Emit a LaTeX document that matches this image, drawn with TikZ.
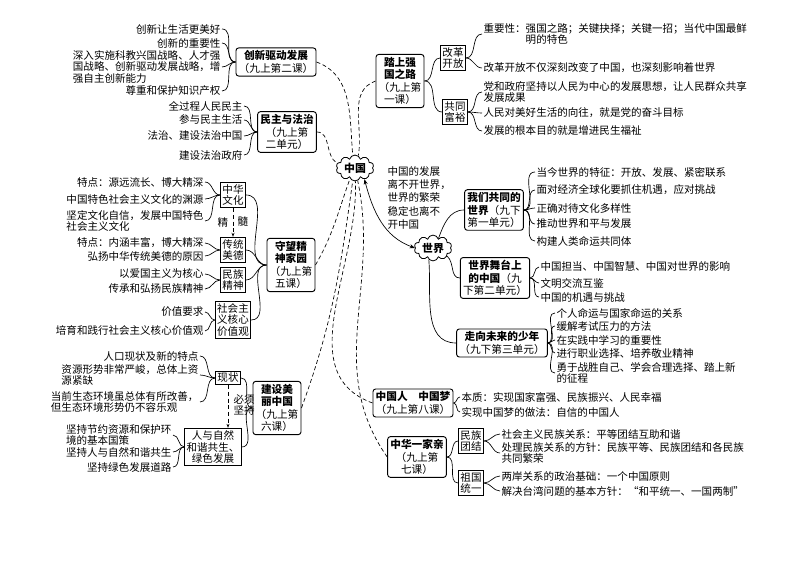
\documentclass[tikz,border=0pt]{standalone}
\usepackage{fontspec}
\setmainfont{Noto Sans CJK SC}
\usetikzlibrary{shapes.symbols,arrows.meta}
\begin{document}
\begin{tikzpicture}[x=0.75pt,y=-0.75pt,
  every node/.style={font=\fontsize{7.9}{8.9}\selectfont},
  box/.style={draw,rounded corners=2pt,line width=0.7pt,align=center,inner sep=2pt,font=\fontsize{8}{9.4}\selectfont\bfseries},
  sub/.style={draw,line width=0.6pt,align=center,inner sep=1.5pt},
  lf/.style={inner sep=1pt,align=left},
  br/.style={line width=0.5pt},
  dl/.style={densely dashed,line width=0.5pt},
  cl/.style={draw,cloud,cloud puffs=10,aspect=1.9,inner sep=1pt,line width=0.6pt,font=\fontsize{8.2}{9.8}\selectfont\bfseries}]
\useasboundingbox (0,0) rectangle (800,566);
% centres
\node[cl] (zg) at (355,168) {中国};
\node[cl] (sj) at (433,248) {世界};
% ---------- left: 创新驱动发展
\node[box] (cx) at (276,62) {创新驱动发展\\{\mdseries（九上第二课）}};
\node[lf,anchor=east] (c1) at (222,29) {创新让生活更美好};
\node[lf,anchor=east] (c2) at (222,43) {创新的重要性};
\node[lf,anchor=east] (c3) at (222,67) {深入实施科教兴国战略、人才强\\国战略、创新驱动发展战略，增\\强自主创新能力};
\node[lf,anchor=east] (c4) at (222,91) {尊重和保护知识产权};
\foreach \l in {c1,c2,c3,c4} \draw[br] (cx.west) to[out=180,in=0] (\l.east);
% 民主与法治
\node[box] (mz) at (287,132) {民主与法治\\{\mdseries（九上第}\\{\mdseries 二单元）}};
\node[lf,anchor=east] (m1) at (244,106) {全过程人民民主};
\node[lf,anchor=east] (m2) at (244,120) {参与民主生活};
\node[lf,anchor=east] (m3) at (244,136) {法治、建设法治中国};
\node[lf,anchor=east] (m4) at (244,155) {建设法治政府};
\foreach \l in {m1,m2,m3,m4} \draw[br] (mz.west) to[out=180,in=0] (\l.east);
% 守望精神家园
\node[box] (sw) at (291,265) {守望精\\神家园\\{\mdseries（九上第}\\{\mdseries 五课）}};
\node[sub] (s1) at (233,195) {中华\\文化};
\node[sub] (s2) at (233,250) {传统\\美德};
\node[sub] (s3) at (233,280) {民族\\精神};
\node[sub] (s4) at (233,320) {社会主\\义核心\\价值观};
\foreach \l in {s1,s2,s3,s4} \draw[br] (sw.west) to[out=180,in=0] (\l.east);
\draw[dl,-{Stealth[length=3pt]}] (s1.south) -- (s2.north);
\node (jing) at (223,222) {精};
\node (sui) at (243,222) {髓};
\node[lf,anchor=east] (a1) at (205,182) {特点：源远流长、博大精深};
\node[lf,anchor=east] (a2) at (205,199) {中国特色社会主义文化的渊源};
\node[lf,anchor=east] (a3) at (205,221) {坚定文化自信，发展中国特色\\社会主义文化};
\foreach \l in {a1,a2,a3} \draw[br] (s1.west) to[out=180,in=0] (\l.east);
\node[lf,anchor=east] (b1) at (205,243) {特点：内涵丰富，博大精深};
\node[lf,anchor=east] (b2) at (205,256) {弘扬中华传统美德的原因};
\foreach \l in {b1,b2} \draw[br] (s2.west) to[out=180,in=0] (\l.east);
\node[lf,anchor=east] (d1) at (205,274) {以爱国主义为核心};
\node[lf,anchor=east] (d2) at (205,289) {传承和弘扬民族精神};
\foreach \l in {d1,d2} \draw[br] (s3.west) to[out=180,in=0] (\l.east);
\node[lf,anchor=east] (e1) at (205,312) {价值要求};
\node[lf,anchor=east] (e2) at (205,331) {培育和践行社会主义核心价值观};
\foreach \l in {e1,e2} \draw[br] (s4.west) to[out=180,in=0] (\l.east);
% 建设美丽中国
\node[box] (jm) at (277,408) {建设美\\丽中国\\{\mdseries（九上第}\\{\mdseries 六课）}};
\node[sub] (xz) at (228,378) {现状};
\node[sub] (rz) at (213,447) {人与自然\\和谐共生、\\绿色发展};
\draw[br] (jm.west) to[out=180,in=0] (xz.east);
\draw[br] (jm.west) to[out=180,in=0] (rz.east);
\coordinate (rzn) at (xz.south |- rz.north);
\draw[dl,-{Stealth[length=3pt]}] (xz.south) -- (rzn);
\node[align=left,anchor=west,inner sep=1pt] (bx) at (232,405) {必须\\坚持};
\node[lf,anchor=east] (f1) at (200,356) {人口现状及新的特点};
\node[lf,anchor=east] (f2) at (200,375) {资源形势非常严峻，总体上资\\源紧缺};
\node[lf,anchor=east] (f3) at (200,402) {当前生态环境虽总体有所改善，\\但生态环境形势仍不容乐观};
\foreach \l in {f1,f2,f3} \draw[br] (xz.west) to[out=180,in=0] (\l.east);
\node[lf,anchor=east] (g1) at (173,435) {坚持节约资源和保护环\\境的基本国策};
\node[lf,anchor=east] (g2) at (173,452) {坚持人与自然和谐共生};
\node[lf,anchor=east] (g3) at (173,467) {坚持绿色发展道路};
\foreach \l in {g1,g2,g3} \draw[br] (rz.west) to[out=180,in=0] (\l.east);
% ---------- right: 踏上强国之路
\node[box] (ts) at (400,81) {踏上强\\国之路\\{\mdseries（九上第}\\{\mdseries 一课）}};
\node[sub] (gg) at (453,58) {改革\\开放};
\node[sub] (gt) at (455,112) {共同\\富裕};
\draw[br] (ts.east) to[out=0,in=180] (gg.west);
\draw[br] (ts.east) to[out=0,in=180] (gt.west);
\node[lf,anchor=west] (h1) at (482,34) {重要性：强国之路；关键抉择；关键一招；当代中国最鲜\\\hspace*{4em}明的特色};
\node[lf,anchor=west] (h2) at (482,68) {改革开放不仅深刻改变了中国，也深刻影响着世界};
\foreach \l in {h1,h2} \draw[br] (gg.east) to[out=0,in=180] (\l.west);
\node[lf,anchor=west] (k1) at (482,92) {党和政府坚持以人民为中心的发展思想，让人民群众共享\\发展成果};
\node[lf,anchor=west] (k2) at (482,113) {人民对美好生活的向往，就是党的奋斗目标};
\node[lf,anchor=west] (k3) at (482,131) {发展的根本目的就是增进民生福祉};
\foreach \l in {k1,k2,k3} \draw[br] (gt.east) to[out=0,in=180] (\l.west);
% annotation
\node[lf,anchor=west,font=\fontsize{7.9}{10}\selectfont] (note) at (386,198) {中国的发展\\离不开世界，\\世界的繁荣\\稳定也离不\\开中国};
% 世界 children
\node[box] (wm) at (494,210) {我们共同的\\世界{\mdseries（九下}\\{\mdseries 第一单元）}};
\node[lf,anchor=west] (w1) at (535,172) {当今世界的特征：开放、发展、紧密联系};
\node[lf,anchor=west] (w2) at (535,190) {面对经济全球化要抓住机遇，应对挑战};
\node[lf,anchor=west] (w3) at (535,208) {正确对待文化多样性};
\node[lf,anchor=west] (w4) at (535,224) {推动世界和平与发展};
\node[lf,anchor=west] (w5) at (535,241) {构建人类命运共同体};
\foreach \l in {w1,w2,w3,w4,w5} \draw[br] (wm.east) to[out=0,in=180] (\l.west);
\node[box] (wt) at (495,278) {世界舞台上\\的中国{\mdseries（九}\\{\mdseries 下第二单元）}};
\node[lf,anchor=west] (t1) at (539,267) {中国担当、中国智慧、中国对世界的影响};
\node[lf,anchor=west] (t2) at (539,283) {文明交流互鉴};
\node[lf,anchor=west] (t3) at (539,297) {中国的机遇与挑战};
\foreach \l in {t1,t2,t3} \draw[br] (wt.east) to[out=0,in=180] (\l.west);
\node[box] (zx) at (502,343) {走向未来的少年\\{\mdseries（九下第三单元）}};
\node[lf,anchor=west] (x1) at (555,313) {个人命运与国家命运的关系};
\node[lf,anchor=west] (x2) at (555,326) {缓解考试压力的方法};
\node[lf,anchor=west] (x3) at (555,340) {在实践中学习的重要性};
\node[lf,anchor=west] (x4) at (555,353) {进行职业选择、培养敬业精神};
\node[lf,anchor=west] (x5) at (555,373) {勇于战胜自己、学会合理选择、踏上新\\的征程};
\foreach \l in {x1,x2,x3,x4,x5} \draw[br] (zx.east) to[out=0,in=180] (\l.west);
% 中国人 中国梦
\node[box] (zm) at (413,403) {中国人\quad 中国梦\\{\mdseries（九上第八课）}};
\node[lf,anchor=west] (z1) at (460,397) {本质：实现国家富强、民族振兴、人民幸福};
\node[lf,anchor=west] (z2) at (460,412) {实现中国梦的做法：自信的中国人};
\foreach \l in {z1,z2} \draw[br] (zm.east) to[out=0,in=180] (\l.west);
% 中华一家亲
\node[box] (zh) at (417,457) {中华一家亲\\{\mdseries（九上第}\\{\mdseries 七课）}};
\node[sub] (mt) at (471,441) {民族\\团结};
\node[sub] (ty) at (471,483) {祖国\\统一};
\draw[br] (zh.east) to[out=0,in=180] (mt.west);
\draw[br] (zh.east) to[out=0,in=180] (ty.west);
\node[lf,anchor=west] (n1) at (500,434) {社会主义民族关系：平等团结互助和谐};
\node[lf,anchor=west] (n2) at (500,453) {处理民族关系的方针：民族平等、民族团结和各民族\\共同繁荣};
\foreach \l in {n1,n2} \draw[br] (mt.east) to[out=0,in=180] (\l.west);
\node[lf,anchor=west] (u1) at (500,476) {两岸关系的政治基础：一个中国原则};
\node[lf,anchor=west] (u2) at (500,491) {解决台湾问题的基本方针：“和平统一、一国两制”};
\foreach \l in {u1,u2} \draw[br] (ty.east) to[out=0,in=180] (\l.west);
% connectors from 中国
\draw[dl] (cx.east) to[out=-20,in=95] (zg.100);
\draw[dl] (mz.east) to[out=0,in=150] (zg.165);
\draw[dl] (ts.west) to[out=200,in=80] (zg.75);
\draw[dl] (sw.east) to[out=60,in=250] (zg.245);
\draw[dl] (jm.east) to[out=70,in=262] (zg.260);
\draw[dl] (zm.west) to[out=160,in=272] (zg.272);
\draw[dl] (zh.west) to[out=125,in=282] (zg.282);
\draw[br,{Stealth[length=4pt]}-{Stealth[length=4pt]}] (zg.310) to[out=-75,in=160] (sj.west);
% connectors from 世界
\draw[br] (sj.60) to[out=70,in=180] (wm.west);
\draw[br] (sj.-30) to[out=-40,in=180] (wt.west);
\draw[br] (sj.250) to[out=-85,in=180] (zx.west);
\end{tikzpicture}
\end{document}
